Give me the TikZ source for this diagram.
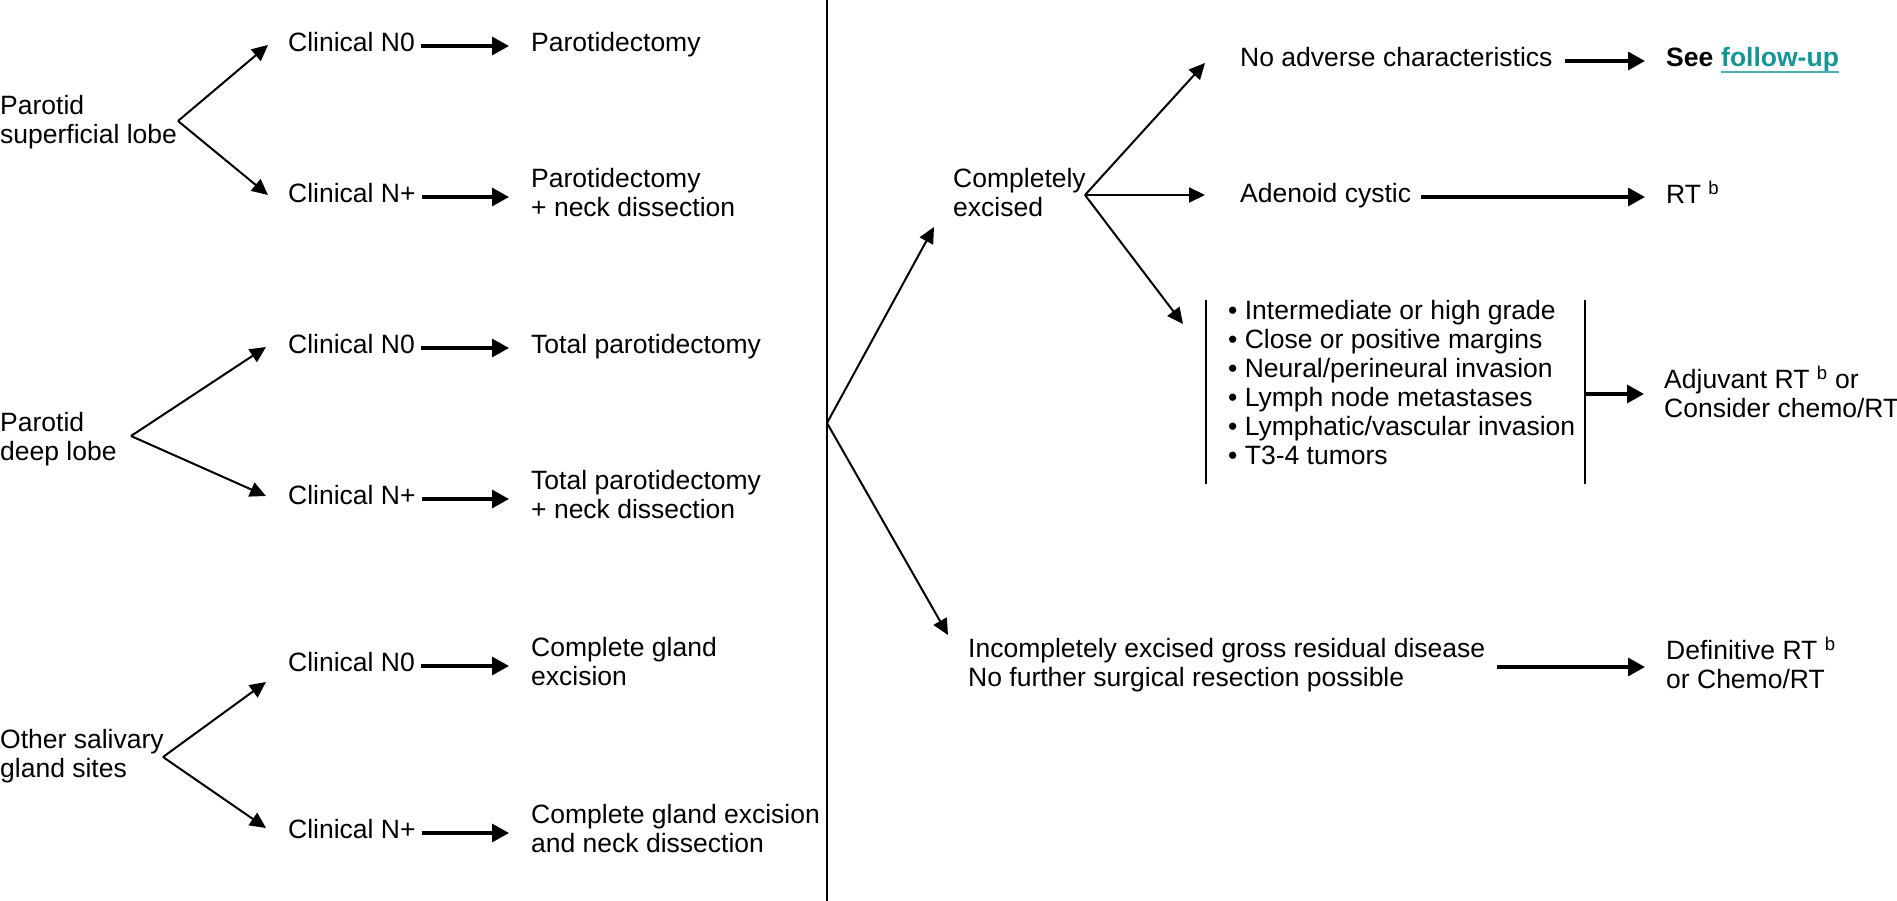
\documentclass[tikz,border=0pt]{standalone}
\usepackage{fontspec}
\setmainfont{Liberation Sans}
\usetikzlibrary{arrows.meta,calc}
\definecolor{linkteal}{RGB}{18,150,150}
\definecolor{lineteal}{RGB}{72,178,178}
\begin{document}
\begin{tikzpicture}[x=1pt,y=-1pt,
  txt/.style={inner sep=0pt, anchor=west, align=left,
    font=\fontsize{26.5}{29}\selectfont,
    execute at begin node=\strut, execute at end node=\strut},
  branch/.style={line width=2pt, -{Triangle[length=16pt,width=15pt]}},
  flow/.style={line width=3.2pt, -{Triangle[length=17pt,width=18pt]}},
  rule/.style={line width=1.9pt}]
\useasboundingbox (0,0) rectangle (1897,901);

% divider between the two halves
\coordinate (dtop) at (827,0);
\coordinate (dbot) at (827,901);
\draw[rule] (dtop) -- (dbot);

% ---------- left half: site and nodal status ----------
\node[txt] (sl)   at (0,124)   {Parotid\\superficial lobe};
\node[txt] (sl0)  at (288,46)  {Clinical N0};
\node[txt] (sl0r) at (531,46)  {Parotidectomy};
\node[txt] (slp)  at (288,197) {Clinical N+};
\node[txt] (slpr) at (531,197) {Parotidectomy\\+ neck dissection};

\node[txt] (dl)   at (0,441)   {Parotid\\deep lobe};
\node[txt] (dl0)  at (288,348) {Clinical N0};
\node[txt] (dl0r) at (531,348) {Total parotidectomy};
\node[txt] (dlp)  at (288,499) {Clinical N+};
\node[txt] (dlpr) at (531,499) {Total parotidectomy\\+ neck dissection};

\node[txt] (os)   at (0,758)   {Other salivary\\gland sites};
\node[txt] (os0)  at (288,666) {Clinical N0};
\node[txt] (os0r) at (531,666) {Complete gland\\excision};
\node[txt] (osp)  at (288,833) {Clinical N+};
\node[txt] (ospr) at (531,833) {Complete gland excision\\and neck dissection};

\coordinate (slb) at (178,121);
\coordinate (dlb) at (131,436);
\coordinate (osb) at (163,757);

\draw[branch] (slb) -- ($(sl0.west)+(-20,-1)$);
\draw[branch] (slb) -- ($(slp.west)+(-20,-2)$);
\draw[branch] (dlb) -- ($(dl0.west)+(-22,-1)$);
\draw[branch] (dlb) -- ($(dlp.west)+(-22,-3)$);
\draw[branch] (osb) -- ($(os0.west)+(-22,16)$);
\draw[branch] (osb) -- ($(osp.west)+(-22,-5)$);

\foreach \a/\b in {sl0/sl0r, slp/slpr, dl0/dl0r, dlp/dlpr, os0/os0r, osp/ospr}
  \draw[flow] ($(\a.east)+(6,0)$) -- ($(\b.west)+(-22,0)$);

% ---------- right half: extent of excision ----------
\coordinate (rb) at (827,423);
\node[txt] (ce)  at (953,197) {Completely\\excised};
\node[txt] (inc) at (968,667) {Incompletely excised gross residual disease\\No further surgical resection possible};
\draw[branch] (rb) -- ($(ce.west)+(-19,30)$);
\draw[branch] (rb) -- ($(inc.west)+(-20,-32)$);

\coordinate (ceb) at (1085,195);
\node[txt] (noadv) at (1240,61)  {No adverse characteristics};
\node[txt] (see)   at (1666,61)  {\bfseries See};
\node[txt, anchor=base west, text=linkteal] (fu) at ($(see.base east)+(7.4,0)$) {\bfseries follow-up};
\draw[lineteal, line width=2pt] ($(fu.base west)+(0,5)$) -- ($(fu.base east)+(0,5)$);

\node[txt] (ac) at (1240,197) {Adenoid cystic};
\node[txt] (rt) at (1666,197) {RT \textsuperscript{b}};

\node[txt] (list) at (1228,387) {• Intermediate or high grade\\• Close or positive margins\\• Neural/perineural invasion\\• Lymph node metastases\\• Lymphatic/vascular invasion\\• T3-4 tumors};
\node[txt] (adj) at (1664,396) {Adjuvant RT \textsuperscript{b} or\\Consider chemo/RT};

\node[txt] (def) at (1666,667) {Definitive RT \textsuperscript{b}\\or Chemo/RT};

\draw[branch] (ceb) -- ($(noadv.west)+(-35,2)$);
\draw[branch] (ceb) -- ($(ac.west)+(-35,-2)$);
\draw[branch] (ceb) -- ($(list.west)+(-45,-63)$);

% bracket around the adverse features
\coordinate (bl1) at (1206,300);
\coordinate (bl2) at (1206,484);
\coordinate (br1) at (1585,300);
\coordinate (br2) at (1585,484);
\coordinate (brk) at (1585,394);
\draw[rule] (bl1) -- (bl2);
\draw[rule] (br1) -- (br2);

\draw[flow] ($(noadv.east)+(12,0)$) -- ($(see.west)+(-21,0)$);
\draw[flow] ($(ac.east)+(10,0)$) -- ($(rt.west)+(-21,0)$);
\draw[flow] (brk) -- ($(adj.west)+(-20,-2)$);
\draw[flow] ($(inc.east)+(12,0)$) -- ($(def.west)+(-21,0)$);
\end{tikzpicture}
\end{document}
